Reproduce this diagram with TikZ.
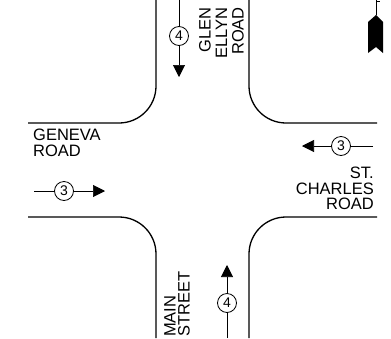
\documentclass[tikz,border=0pt]{standalone}
\usepackage{fontspec}
\setmainfont{Liberation Sans}
\usetikzlibrary{arrows.meta}
\tikzset{
  road/.style={line width=1.3pt, rounded corners=37pt},
  flow/.style={line width=0.6pt},
  flowtip/.style={line width=0.6pt, -{Triangle[length=12pt,width=12pt]}},
  lanes/.style={circle, draw, line width=0.8pt, minimum size=19pt, inner sep=0pt, font=\fontsize{14}{14}\selectfont},
  label/.style={inner sep=0pt, font=\fontsize{16.5}{15.5}\selectfont}
}
\begin{document}
\begin{tikzpicture}[x=1pt,y=-1pt]
\useasboundingbox (0,0) rectangle (391,338);
% roads
\draw[road] (156,0) -- (156,123) -- (28,123);
\draw[road] (249,0) -- (249,123) -- (377,123);
\draw[road] (28,217) -- (156,217) -- (156,338);
\draw[road] (377,217) -- (249,217) -- (249,338);
% southbound
\coordinate (sS) at (179,0);
\node[lanes] (sC) at (179,36) {4};
\coordinate (sT) at (179,77);
\draw[flow] (sS) -- (sC);
\draw[flowtip] (sC) -- (sT);
% northbound
\coordinate (nS) at (227,338);
\node[lanes] (nC) at (227,303) {4};
\coordinate (nT) at (227,265);
\draw[flow] (nS) -- (nC);
\draw[flowtip] (nC) -- (nT);
% eastbound
\coordinate (eS) at (34,191);
\node[lanes] (eC) at (64,191) {3};
\coordinate (eT) at (105,191);
\draw[flow] (eS) -- (eC);
\draw[flowtip] (eC) -- (eT);
% westbound
\coordinate (wS) at (373,146);
\node[lanes] (wC) at (341,146) {3};
\coordinate (wT) at (302,146);
\draw[flow] (wS) -- (wC);
\draw[flowtip] (wC) -- (wT);
% labels
\node[label, anchor=north west, align=left] (geneva) at (33,129) {GENEVA\\ROAD};
\node[label, anchor=north east, align=right] (stc) at (374,167) {ST.\\CHARLES\\ROAD};
\node[label, font=\fontsize{16.5}{16.5}\selectfont, rotate=90, anchor=north east, align=right] (glen) at (199,7) {GLEN\\ELLYN\\ROAD};
\node[label, font=\fontsize{16.5}{14}\selectfont, rotate=90, anchor=north west, align=left] (main) at (164,337) {MAIN\\STREET};
% north arrow
\coordinate (nA) at (376,0);
\coordinate (nB) at (376,15);
\draw[line width=0.6pt] (nA) -- (nB);
\draw[line width=0.6pt] (376,1) -- (380,1);
\fill (368,22) -- (nB) -- (383,22) -- (383,53) -- (376,47) -- (368,53) -- cycle;
\end{tikzpicture}
\end{document}
